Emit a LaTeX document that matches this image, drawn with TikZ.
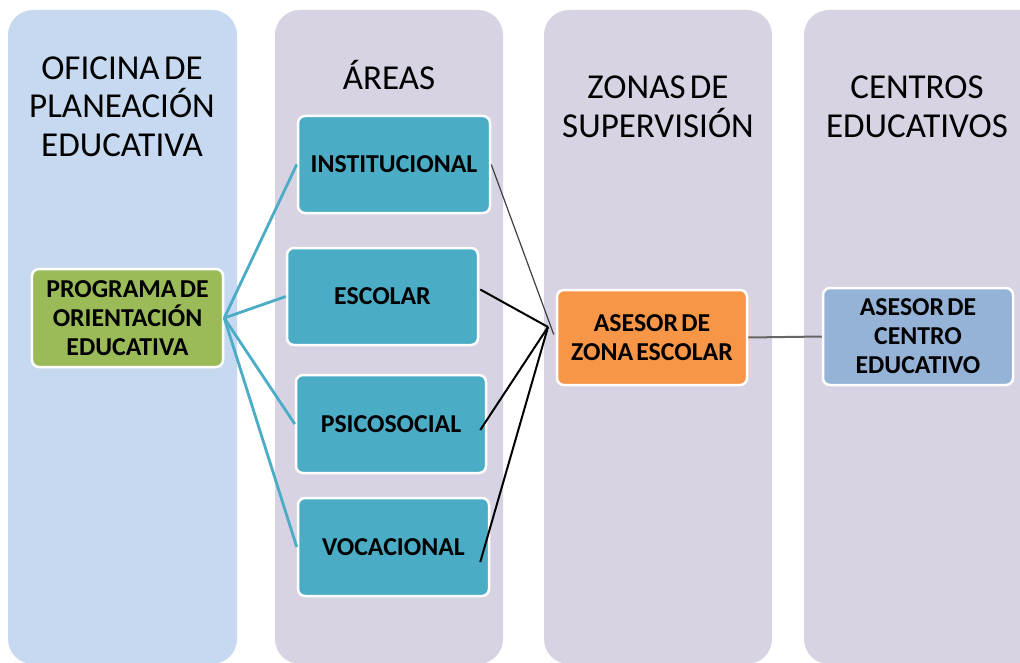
\documentclass[tikz,border=0pt]{standalone}
\usepackage{fontspec}
\setmainfont[WordSpace=0.55]{Carlito}
\usetikzlibrary{calc}
\definecolor{colblue}{HTML}{C6D9F0}
\definecolor{colgray}{HTML}{D7D3E2}
\definecolor{teal1}{HTML}{4BACC6}
\definecolor{green1}{HTML}{9BBB59}
\definecolor{orange1}{HTML}{F79646}
\definecolor{blue1}{HTML}{95B3D7}
\definecolor{line1}{HTML}{404040}
\tikzset{
  column/.style={rounded corners=25bp},
  title/.style={font=\fontsize{35bp}{38.5bp}\selectfont, align=center, text=black, anchor=base},
  box/.style={draw=white, line width=2.5bp, rounded corners=7bp, align=center,
    font=\bfseries\fontsize{25.8bp}{29bp}\selectfont, inner sep=0pt, text=black},
  tealline/.style={draw=teal1, line width=2.8bp},
  blackline/.style={draw=black, line width=2bp},
  thinline/.style={draw=line1, line width=1.2bp},
}
\begin{document}
\begin{tikzpicture}[x=1bp,y=-1bp]
\useasboundingbox (0,0) rectangle (1020,663);
\fill[white] (0,0) rectangle (1020,663);
\begin{scope}
\clip (0,0) rectangle (1020,663);
\fill[colblue, column] (8,10) rectangle (237,664);
\fill[colgray, column] (275,10) rectangle (503,664);
\fill[colgray, column] (544,10) rectangle (772,664);
\fill[colgray, column] (804,10) rectangle (1045,664);
\end{scope}

\node[title] (t1) at (122,156.5) {OFICINA DE\\PLANEACIÓN\\EDUCATIVA};
\node[title] (t2) at (389,90) {ÁREAS};
\node[title] (t3) at (658,137.5) {ZONAS DE\\SUPERVISIÓN};
\node[title] (t4) at (917,137.5) {CENTROS\\EDUCATIVOS};

\node[box, fill=green1, minimum width=191bp, minimum height=98bp] (prog) at (127.5,318) {PROGRAMA DE\\ORIENTACIÓN\\EDUCATIVA};
\node[box, fill=teal1, minimum width=192bp, minimum height=97bp] (inst) at (394,164.5) {INSTITUCIONAL};
\node[box, fill=teal1, minimum width=191bp, minimum height=97bp] (esc) at (382.5,296.5) {ESCOLAR};
\node[box, fill=teal1, minimum width=190bp, minimum height=98bp] (psico) at (391,424) {PSICOSOCIAL};
\node[box, fill=teal1, minimum width=191bp, minimum height=98bp] (voc) at (393.5,547) {VOCACIONAL};
\node[box, fill=orange1, minimum width=190bp, minimum height=95bp] (zona) at (652,337.5) {ASESOR DE\\ZONA ESCOLAR};
\node[box, fill=blue1, minimum width=190bp, minimum height=97bp] (centro) at (918,336.5) {ASESOR DE\\CENTRO\\EDUCATIVO};

\coordinate (hub) at (548,327);

\draw[tealline] (prog.east) -- (inst.west);
\draw[tealline] (prog.east) -- (esc.west);
\draw[tealline] (prog.east) -- (psico.west);
\draw[tealline] (prog.east) -- (voc.west);

\draw[thinline] (inst.east) -- ($(zona.west)+(-2,-3)$);
\draw[blackline] ($(esc.east)+(1,-7)$) -- (hub);
\draw[blackline] ($(psico.east)+(-7,6)$) -- (hub);
\draw[blackline] ($(voc.east)+(-10,15)$) -- (hub);
\draw[draw=line1!80, line width=2bp] (zona.east) -- (centro.west);
\end{tikzpicture}
\end{document}
